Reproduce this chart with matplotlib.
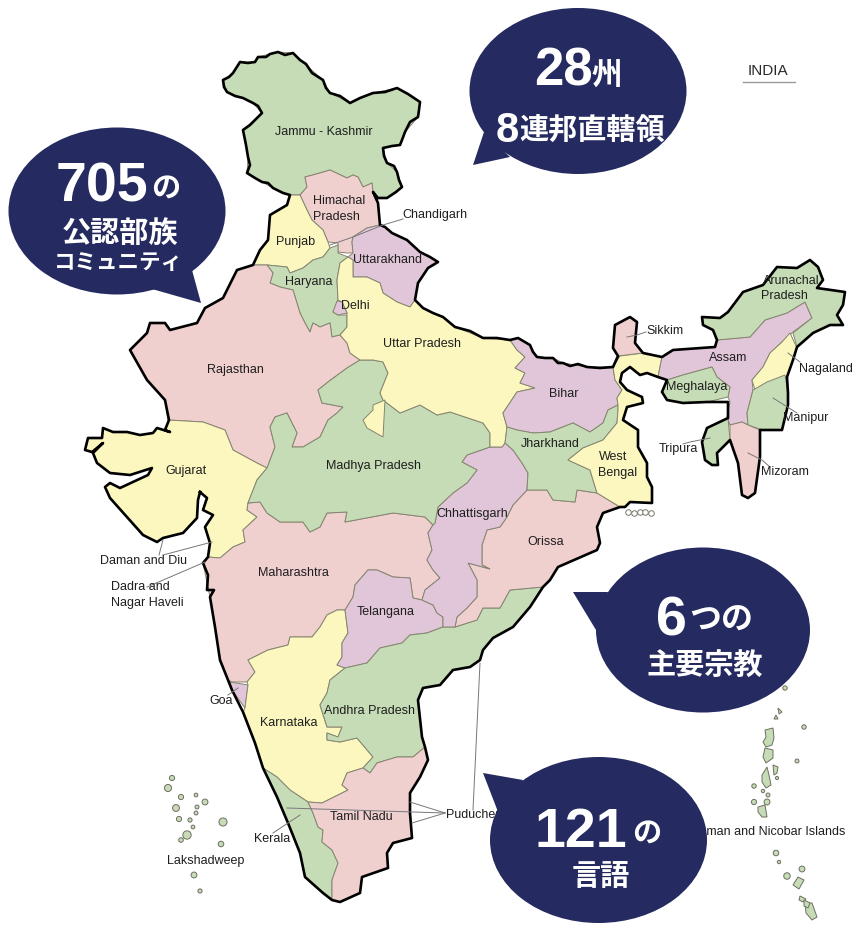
import matplotlib
matplotlib.use("Agg")
import matplotlib.pyplot as plt
from matplotlib.patches import Polygon, Ellipse

GREEN = "#c6dcb6"
PINK = "#f0cfcf"
YELLOW = "#fbf7bf"
PURPLE = "#e1c6da"
NAVY = "#252a60"
EDGE = "#85856f"

# state outlines in image pixels
jammu_kashmir = [(223,80),(233,73),(240,62),(255,62),(258,57),(278,52),(293,53),(300,60),(323,80),(330,93),(350,103),(373,93),(397,88),(420,102),(418,117),(405,132),(400,145),(383,148),(387,163),(397,172),(402,187),(387,198),(378,198),(373,192),(372,183),(363,187),(358,177),(353,175),(347,178),(330,170),(320,173),(305,177),(307,187),(300,195),(290,195),(273,188),(262,182),(247,173),(248,157),(243,130),(262,113),(253,103),(243,98),(227,92)]
himachal = [(300,195),(307,187),(305,177),(320,173),(330,170),(347,178),(353,175),(358,177),(363,187),(372,183),(373,192),(378,203),(380,225),(367,228),(353,237),(352,242),(353,253),(347,253),(338,252),(338,243),(328,242),(323,230),(312,220),(307,210)]
punjab = [(290,195),(300,195),(307,210),(312,220),(323,230),(328,242),(330,248),(323,257),(313,260),(303,268),(290,273),(287,267),(267,265),(253,265),(260,250),(268,240),(270,215),(287,205)]
haryana = [(338,245),(338,253),(348,257),(340,263),(337,280),(338,300),(333,312),(338,315),(347,315),(347,327),(340,335),(332,337),(330,323),(320,327),(313,323),(310,332),(305,323),(300,313),(293,290),(280,287),(270,283),(273,273),(267,265),(287,267),(290,273),(303,268),(313,260),(323,257),(330,248)]
uttarakhand = [(353,237),(367,228),(380,225),(385,227),(392,233),(407,240),(420,252),(430,257),(438,262),(428,268),(418,283),(415,300),(410,307),(397,302),(383,293),(380,283),(367,277),(353,277),(353,260),(348,257),(353,253),(352,242)]
delhi = [(337,301),(342,302),(347,313),(338,315),(333,312)]
rajasthan = [(237,270),(253,265),(267,265),(273,273),(270,283),(280,287),(293,290),(300,313),(305,323),(310,332),(313,323),(320,327),(330,323),(332,337),(340,335),(347,343),(350,353),(360,360),(347,368),(328,382),(318,390),(322,403),(343,407),(337,413),(328,420),(320,437),(303,447),(292,447),(297,433),(287,413),(275,417),(270,427),(275,447),(267,468),(257,463),(233,450),(225,430),(203,422),(168,420),(165,400),(147,380),(130,350),(147,333),(150,323),(165,323),(170,330),(197,323),(205,308),(223,298)]
gujarat = [(168,420),(203,422),(225,430),(233,450),(257,463),(267,468),(257,480),(248,503),(247,510),(257,517),(243,530),(245,542),(233,547),(220,558),(208,557),(210,543),(205,527),(213,515),(203,510),(207,498),(200,492),(198,500),(197,518),(183,533),(163,538),(157,542),(143,535),(127,517),(110,498),(105,487),(110,483),(120,488),(133,482),(148,475),(152,468),(130,475),(110,473),(97,463),(93,453),(103,443),(92,452),(85,450),(88,438),(102,438),(103,428),(113,432),(127,432),(140,435),(153,433),(157,428),(170,432),(165,430),(169,420)]
maharashtra = [(208,557),(220,558),(233,547),(245,542),(243,530),(257,517),(247,510),(248,503),(260,502),(267,513),(280,522),(303,522),(310,532),(320,527),(327,513),(347,512),(345,522),(393,513),(425,517),(433,525),(428,533),(432,550),(427,560),(433,570),(440,578),(425,590),(422,600),(413,598),(410,578),(393,577),(377,570),(368,570),(355,585),(353,597),(345,610),(337,610),(327,615),(320,627),(312,637),(290,637),(288,645),(268,650),(248,660),(255,672),(247,682),(232,682),(228,680),(220,660),(215,627),(210,597),(203,563)]
goa = [(230,682),(248,685),(245,708),(237,697),(232,690)]
karnataka = [(248,660),(268,650),(288,645),(290,637),(312,637),(320,627),(327,615),(337,610),(345,610),(348,633),(342,643),(342,657),(337,665),(345,668),(330,680),(327,693),(320,705),(327,727),(342,727),(338,737),(327,733),(327,740),(340,742),(357,738),(373,757),(363,768),(347,773),(342,785),(348,790),(322,803),(308,802),(290,790),(277,777),(263,768),(255,743),(243,712),(245,708),(248,685),(247,682),(255,672)]
telangana = [(368,570),(377,570),(393,577),(410,578),(413,598),(422,600),(433,605),(437,613),(443,617),(443,627),(427,633),(410,635),(402,643),(380,648),(367,663),(345,668),(337,665),(342,657),(342,643),(348,633),(345,610),(353,597),(355,585)]
andhra = [(345,668),(367,663),(380,648),(402,643),(410,635),(427,633),(443,627),(455,627),(477,620),(483,608),(500,608),(510,590),(543,587),(530,607),(513,627),(493,638),(483,650),(480,660),(470,667),(453,670),(440,685),(423,688),(418,700),(422,737),(425,747),(413,757),(397,757),(377,763),(370,773),(363,768),(373,757),(357,738),(340,742),(327,740),(327,733),(338,737),(342,727),(327,727),(320,705),(327,693),(330,680)]
orissa = [(455,627),(457,617),(467,608),(477,597),(477,580),(468,563),(490,569),(482,565),(482,545),(487,530),(500,527),(507,517),(513,505),(527,490),(547,490),(553,500),(575,502),(577,490),(597,493),(620,507),(603,513),(597,527),(600,543),(597,550),(558,567),(550,580),(543,587),(510,590),(500,608),(483,608),(477,620)]
chhattisgarh = [(435,523),(438,507),(453,493),(467,483),(477,470),(462,462),(467,455),(490,447),(502,447),(505,443),(513,450),(522,463),(528,473),(527,490),(513,505),(507,517),(500,527),(487,530),(482,545),(482,565),(490,569),(468,563),(477,580),(477,597),(467,608),(457,617),(455,627),(443,627),(443,617),(437,613),(433,605),(422,600),(425,590),(440,578),(433,570),(427,560),(432,550),(428,533),(433,525)]
madhya_pradesh = [(267,468),(275,447),(270,427),(275,417),(287,413),(297,433),(292,447),(303,447),(320,437),(328,420),(337,413),(343,407),(322,403),(318,390),(328,382),(347,368),(360,360),(373,360),(383,362),(388,373),(380,393),(383,400),(400,413),(420,405),(437,415),(450,412),(483,423),(490,433),(490,447),(467,455),(462,462),(477,470),(467,483),(453,493),(438,507),(435,523),(433,525),(425,517),(393,513),(345,522),(347,512),(327,513),(320,527),(310,532),(303,522),(280,522),(267,513),(260,502),(248,503),(257,480)]
uttar_pradesh = [(348,257),(353,260),(353,277),(367,277),(380,283),(383,293),(397,302),(410,307),(415,300),(423,308),(433,313),(443,317),(455,327),(483,338),(510,340),(517,350),(525,357),(515,368),(525,373),(520,383),(535,388),(517,392),(503,413),(507,427),(505,443),(502,447),(490,447),(490,433),(483,423),(450,412),(437,415),(420,405),(400,413),(383,400),(380,393),(388,373),(383,362),(373,360),(360,360),(350,353),(347,343),(340,335),(347,327),(347,315),(347,313),(342,302),(338,300),(337,280),(340,263)]
up_pocket = [(373,405),(385,400),(383,437),(367,428),(363,420),(373,410)]
bihar = [(510,340),(518,338),(530,345),(537,357),(553,358),(563,363),(587,367),(613,367),(615,380),(622,390),(617,398),(618,405),(608,410),(603,423),(590,432),(573,423),(550,432),(533,433),(517,430),(507,427),(503,413),(517,392),(535,388),(520,383),(525,373),(515,368),(525,357),(517,350)]
jharkhand = [(507,427),(517,430),(533,433),(550,432),(573,423),(590,432),(603,423),(608,410),(618,405),(618,410),(617,423),(603,440),(583,448),(568,460),(590,470),(593,480),(597,493),(577,490),(575,502),(553,500),(547,490),(527,490),(528,473),(522,463),(513,450),(505,443)]
west_bengal = [(620,356),(643,353),(662,357),(658,377),(647,373),(640,375),(630,367),(622,373),(620,382),(627,390),(642,397),(643,403),(627,407),(623,420),(638,430),(638,447),(647,463),(647,477),(652,487),(652,503),(630,502),(625,507),(620,507),(597,493),(593,480),(590,470),(568,460),(583,448),(603,440),(617,423),(618,410),(618,405),(617,398),(622,390),(615,380),(613,367)]
sikkim = [(618,356),(613,348),(615,325),(630,317),(637,322),(635,343),(643,353)]
assam = [(662,357),(673,350),(715,347),(717,340),(750,337),(765,320),(787,313),(805,302),(812,318),(793,332),(770,353),(763,367),(752,380),(753,390),(747,413),(748,425),(742,422),(730,425),(727,417),(730,402),(728,397),(730,387),(717,377),(712,367),(683,375),(667,380),(658,377)]
meghalaya = [(667,380),(683,375),(712,367),(717,377),(730,387),(728,397),(707,402),(683,403),(667,400),(662,392)]
nagaland = [(790,333),(797,348),(793,360),(787,377),(770,382),(755,390),(752,380),(763,367),(770,353),(782,342)]
arunachal = [(702,317),(720,318),(728,312),(743,292),(763,285),(777,267),(797,268),(810,260),(818,267),(823,280),(817,288),(845,292),(843,305),(837,315),(843,325),(830,325),(813,333),(797,347),(793,333),(812,318),(805,302),(787,313),(765,320),(750,337),(717,340),(713,330),(703,325)]
manipur = [(753,390),(767,382),(785,375),(788,393),(788,405),(782,430),(763,430),(748,425),(747,413)]
mizoram = [(730,425),(742,422),(748,425),(760,430),(760,457),(755,493),(748,498),(742,495),(738,463),(730,440)]
tripura = [(728,418),(730,440),(717,453),(718,465),(712,465),(705,460),(702,442),(707,428)]
kerala = [(263,768),(277,777),(290,790),(308,802),(313,813),(318,827),(323,830),(322,842),(332,850),(338,863),(332,880),(332,900),(323,893),(305,877),(300,853),(288,823),(277,797)]
tamil_nadu = [(308,802),(322,803),(348,790),(342,785),(347,773),(363,768),(370,773),(377,763),(397,757),(413,757),(425,747),(428,760),(420,777),(410,793),(410,813),(412,838),(393,843),(387,853),(388,868),(362,877),(360,893),(340,902),(332,900),(332,880),(338,863),(332,850),(322,842),(323,830),(318,827),(313,813)]

# thick black national outline
india_outline = [(200,492),(198,500),(197,518),(183,533),(163,538),(157,542),(143,535),(127,517),(110,498),(105,487),(110,483),(120,488),(133,482),(148,475),(152,468),(130,475),(110,473),(97,463),(93,453),(103,443),(92,452),(85,450),(88,438),(102,438),(103,428),(113,432),(127,432),(140,435),(153,433),(157,428),(170,432),(165,430),(169,420),(165,400),(147,380),(130,350),(147,333),(150,323),(165,323),(170,330),(197,323),(205,308),(223,298),(237,270),(253,265),(260,250),(268,240),(270,215),(287,205),(290,195),(283,193),(273,188),(268,183),(262,182),(255,178),(247,173),(250,165),(248,157),(246,145),(243,130),(250,125),(262,113),(258,106),(253,103),(243,98),(235,96),(227,92),(224,87),(223,80),(229,77),(233,73),(240,62),(248,63),(255,62),(258,57),(266,57),(270,54),(278,52),(285,55),(293,53),(300,60),(306,64),(312,73),(323,80),(326,88),(330,93),(340,96),(350,103),(360,98),(373,93),(385,92),(397,88),(408,94),(420,102),(419,110),(418,117),(410,122),(405,132),(402,140),(400,145),(392,146),(383,148),(384,156),(387,163),(394,166),(397,172),(399,180),(402,187),(396,192),(387,198),(378,198),(373,192),(378,203),(380,225),(385,227),(392,233),(407,240),(420,252),(430,257),(438,262),(428,268),(418,283),(415,300),(423,308),(433,313),(443,317),(455,327),(470,331),(483,338),(497,338),(510,340),(518,338),(530,345),(533,352),(537,357),(545,358),(553,358),(558,363),(563,363),(570,366),(578,364),(587,367),(600,368),(613,367),(618,356),(613,348),(615,325),(630,317),(637,322),(635,343),(643,353),(662,357),(673,350),(715,347),(717,340),(713,330),(703,325),(702,317),(720,318),(728,312),(743,292),(763,285),(777,267),(797,268),(810,260),(818,267),(823,280),(817,288),(845,292),(843,305),(837,315),(843,325),(830,325),(813,333),(797,347),(793,360),(787,377),(788,393),(788,405),(782,430),(760,430),(760,457),(755,493),(748,498),(742,495),(738,463),(730,440),(717,453),(718,465),(712,465),(705,460),(702,442),(707,428),(728,418),(728,402),(707,402),(683,403),(667,400),(662,392),(667,380),(658,377),(647,373),(640,375),(630,367),(622,373),(620,382),(627,390),(642,397),(643,403),(627,407),(623,420),(638,430),(638,447),(647,463),(647,477),(652,487),(652,503),(630,502),(625,507),(620,507),(603,513),(597,527),(600,543),(597,550),(558,567),(550,580),(543,587),(530,607),(513,627),(493,638),(483,650),(480,660),(470,667),(453,670),(440,685),(423,688),(418,700),(422,737),(425,747),(428,760),(420,777),(410,793),(410,813),(412,838),(393,843),(387,853),(388,868),(362,877),(360,893),(340,902),(332,900),(323,893),(305,877),(300,853),(288,823),(277,797),(263,768),(255,743),(243,712),(232,690),(228,680),(220,660),(215,627),(210,597),(214,590),(207,590),(208,575),(203,563),(208,557),(210,543),(205,527),(213,515),(203,510),(207,498),(200,492)]

# islands
andaman_nicobar = [
    [(765,730),(773,728),(774,738),(772,745),(766,747),(763,742),(766,737)],
    [(765,748),(773,750),(773,758),(766,763),(763,757)],
    [(762,775),(767,767),(769,775),(771,785),(766,788),(762,782)],
    [(773,765),(778,767),(777,773),(774,775)],
    [(758,807),(765,805),(767,817),(762,817),(758,812)],
    [(778,708),(782,712),(779,714)],
    [(776,715),(778,719),(774,719)],
    [(793,885),(798,877),(804,880),(799,889)],
    [(805,903),(812,903),(817,917),(812,920),(806,913)],
    [(800,896),(806,899),(803,902),(799,900)],
    [(804,900),(810,903),(808,908),(804,906)],
]
islet_x = [785,804,797,777,754,754,767,768,763,776,779,802,787,
           172,168,181,196,205,176,197,196,190,179,223,193,187,181,221,194,200]
islet_y = [688,727,761,778,786,802,802,795,791,853,862,869,876,
           778,788,797,795,802,808,807,813,820,819,822,827,835,840,844,875,891]
islet_size = [10,10,8,5,10,14,18,8,6,16,6,18,22,
              14,26,14,7,18,24,8,8,9,14,34,7,36,11,16,18,9]
delta_x = [628,634,640,645,651]
delta_y = [512,513,512,512,513]

# label, x, y
labels = [("Jammu - Kashmir",324,132),("Himachal",339,201),("Pradesh",336,217),("Chandigarh",435,215),
          ("Punjab",296,242),("Uttarakhand",388,260),("Haryana",309,282),("Delhi",355,306),
          ("Uttar Pradesh",422,344),("Rajasthan",235,370),("Gujarat",186,471),("Madhya Pradesh",374,466),
          ("Arunachal",791,281),("Pradesh",784,296),("Sikkim",665,331),("Assam",728,358),
          ("Meghalaya",697,387),("Nagaland",826,369),("Bihar",564,394),("Jharkhand",550,444),
          ("West",613,457),("Bengal",618,473),("Manipur",806,418),("Tripura",678,449),("Mizoram",785,472),
          ("Chhattisgarh",472,514),("Orissa",546,542),("Daman and Diu",143,561),("Dadra and",140,587),
          ("Nagar Haveli",147,603),("Maharashtra",293,573),("Telangana",386,612),("Andhra Pradesh",370,711),
          ("Goa",221,701),("Karnataka",289,723),("Tamil Nadu",361,817),("Kerala",272,839),
          ("Lakshadweep",206,861)]

# leader lines
leaders = [[(330,245),(353,237),(383,225),(403,219)],[(627,337),(637,335),(646,332)],
           [(788,353),(800,362)],[(773,398),(797,413)],[(748,453),(762,460),(770,467)],
           [(710,438),(690,442),(683,444)],[(163,540),(159,555)],[(212,542),(163,555)],
           [(205,562),(147,587)],[(238,688),(228,695)],[(300,815),(273,833)],
           [(480,663),(473,810)],[(445,813),(410,802)],[(445,813),(412,823)],[(445,813),(287,808)]]

fig = plt.figure(figsize=(8.59, 9.32), dpi=100)
ax = fig.add_axes([0, 0, 1, 1])
ax.set_xlim(0, 859)
ax.set_ylim(932, 0)
ax.axis("off")

states = [(jammu_kashmir,GREEN),(himachal,PINK),(punjab,YELLOW),(haryana,GREEN),(uttarakhand,PURPLE),
          (rajasthan,PINK),(gujarat,YELLOW),(maharashtra,PINK),(goa,PURPLE),(karnataka,YELLOW),
          (telangana,PURPLE),(andhra,GREEN),(orissa,PINK),(chhattisgarh,PURPLE),(madhya_pradesh,GREEN),
          (uttar_pradesh,YELLOW),(up_pocket,YELLOW),(delhi,PURPLE),(bihar,PURPLE),(jharkhand,GREEN),
          (west_bengal,YELLOW),(sikkim,PINK),(assam,PURPLE),(meghalaya,GREEN),(nagaland,YELLOW),
          (arunachal,GREEN),(manipur,GREEN),(mizoram,PINK),(tripura,GREEN),(kerala,GREEN),(tamil_nadu,PINK)]
for pts, col in states:
    ax.add_patch(Polygon(pts, closed=True, facecolor=col, edgecolor=EDGE, linewidth=0.7, zorder=2))

ax.plot([p[0] for p in india_outline], [p[1] for p in india_outline], color="black", lw=1.9,
        solid_joinstyle="round", zorder=3)

for pts in andaman_nicobar:
    ax.add_patch(Polygon(pts, closed=True, facecolor=GREEN, edgecolor="#6e6e62", linewidth=0.7, zorder=2))
ax.scatter(islet_x, islet_y, s=islet_size, c=GREEN, edgecolors="#6e6e62", linewidths=0.7, zorder=2)
ax.scatter(delta_x, delta_y, s=16, c="white", edgecolors="#77776a", linewidths=0.7, zorder=2)

for line in leaders:
    ax.plot([p[0] for p in line], [p[1] for p in line], color="#77777a", lw=0.7, zorder=4)

for name, x, y in labels:
    ax.text(x, y, name, ha="center", va="center", fontsize=9.0, family="Liberation Sans",
            color="#1e1e1e", zorder=5)
ax.text(446, 815, "Puducherry", ha="left", va="center", fontsize=9.0, family="Liberation Sans",
        color="#1e1e1e", zorder=5)
ax.text(845, 832, "Andaman and Nicobar Islands", ha="right", va="center", fontsize=9.0,
        family="Liberation Sans", color="#1e1e1e", zorder=5)
ax.text(768, 71, "INDIA", ha="center", va="center", fontsize=11, family="Liberation Sans",
        color="#2a2a2a", zorder=5)
ax.plot([743, 795], [81.5, 81.5], color="#9a9a9a", lw=1.0, zorder=5)

# speech bubbles: centre x, centre y, width, height, tail
bubbles = [(117,211,217,167,[(192,270),(201,303),(152,289)]),
           (578,91,217,166,[(484,132),(473,165),(510,157)]),
           (703,630,214,165,[(608,592),(573,592),(596,630)]),
           (598.5,840,217,166,[(523,780),(483,773),(500,817)])]
for cx, cy, w, h, tail in bubbles:
    ax.add_patch(Ellipse((cx, cy), w, h, facecolor=NAVY, edgecolor="none", zorder=6))
    ax.add_patch(Polygon(tail, closed=True, facecolor=NAVY, edgecolor="none", zorder=6))

# digits: text, x, baseline y, size
bubble_digits = [("705",102,201.5,40),("28",563,85,38),("8",507,142,30),("6",671,635,40),("121",581,847,40)]
# kana and kanji: text, x, baseline y, size
bubble_text = [("の",166,198,21),("公認部族",120,242,21),("コミュニティ",118,269,15.5),
               ("州",607,84,22),("連邦直轄領",592,140,21),
               ("つの",721,630,23),("主要宗教",705,674,21),
               ("の",647,843,21),("言語",601,885,21)]
for s, x, y, size in bubble_digits:
    ax.text(x, y, s, ha="center", va="baseline", fontsize=size, fontweight="bold", color="white",
            family="Liberation Sans", zorder=7)
for s, x, y, size in bubble_text:
    ax.text(x, y, s, ha="center", va="baseline", fontsize=size, fontweight="bold", color="white",
            family=["Noto Sans CJK JP", "DejaVu Sans"], zorder=7)

fig.savefig("out.png", dpi=100)
